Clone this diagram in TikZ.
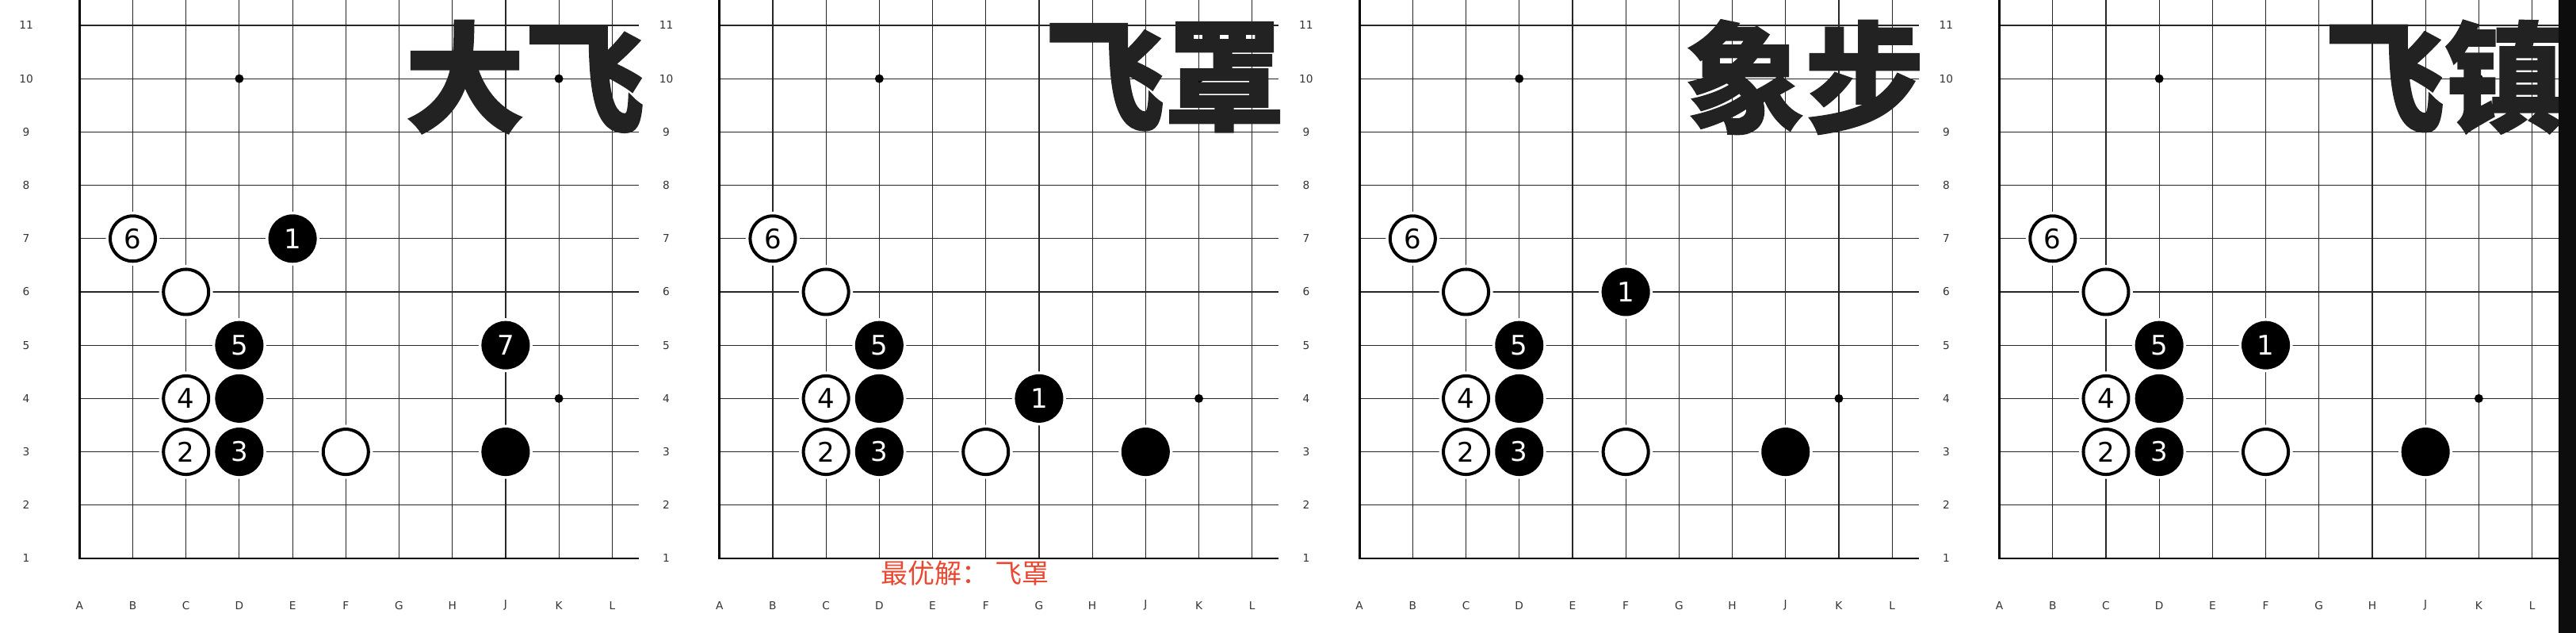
\documentclass[tikz,border=0pt]{standalone}
\usepackage{fontspec}
\setmainfont{DejaVu Sans}
\newfontfamily\cjk{Noto Sans CJK SC}
\newfontfamily\cjktitle{Noto Sans CJK SC}[BoldFeatures={FakeBold=1.2}]
\usetikzlibrary{positioning}
\definecolor{titlegray}{HTML}{222222}
\definecolor{hintred}{RGB}{234,72,48}

\begin{document}
\begin{tikzpicture}[
    gridline/.style={line width=0.5pt, black!85},
    border/.style={line width=1.2pt, black},
    stone/.style={circle, minimum size=0.848cm, inner sep=0pt, line width=1.7pt, preaction={draw=white, line width=4.65pt}, font=\fontsize{14.4pt}{14.4pt}\selectfont},
    wstone/.style={stone, draw=black, fill=white, text=black},
    bstone/.style={stone, draw=black, fill=black, text=white},
    star/.style={circle, fill=black, minimum size=0.164cm, inner sep=0pt},
    coordlabel/.style={font=\fontsize{5.8pt}{6pt}\selectfont, text=black!80},
    title/.style={font=\cjktitle\bfseries\fontsize{64pt}{64pt}\selectfont, text=titlegray, inner sep=0pt, anchor=west},
    hint/.style={font=\cjk\fontsize{14.4pt}{15pt}\selectfont, text=hintred, inner sep=0pt}
]
    \useasboundingbox (-1.4926,-1.399) rectangle (46.87,10.476);

    % Boards
    \foreach \p/\ttl in {0/大飞, 1/飞罩, 2/象步, 3/飞镇} {
      \begin{scope}[xshift=\p*12.015cm]
        \foreach \x in {0,...,10} \draw[gridline] (\x,0) -- (\x,10.476);
        \foreach \y in {1,...,10} \draw[gridline] (0,\y) -- (10.5,\y);
        \draw[border] (0,10.476) -- (0,0) -- (10.5,0);
        \foreach \c [count=\i from 0] in {A,B,C,D,E,F,G,H,J,K,L}
          \node (col\p\c) [coordlabel] at (\i,-0.88) {\c};
        \foreach \r in {1,...,11}
          \node (row\p-\r) [coordlabel] at (-1,\r-1) {\r};
        \node (star\p a) [star] at (3,9) {};
        \node (star\p b) [star] at (9,9) {};
        \node (star\p c) [star] at (9,3) {};
        \node (title\p) [title] at (6.1,9.03) {\ttl};
        % Shared stones
        \node (w6-\p) [wstone] at (1,6) {6};
        \node (wc6-\p) [wstone] at (2,5) {};
        \node (b5-\p) [bstone] at (3,4) {5};
        \node (w4-\p) [wstone] at (2,3) {4};
        \node (bd4-\p) [bstone] at (3,3) {};
        \node (w2-\p) [wstone] at (2,2) {2};
        \node (b3-\p) [bstone] at (3,2) {3};
        \node (wf3-\p) [wstone] at (5,2) {};
        \node (bj3-\p) [bstone] at (8,2) {};
      \end{scope}
    }

    % Black 1 in each board
    \node (b1-0) [bstone] at (4,6) {1};
    \node (b7-0) [bstone] at (8,4) {7};
    \node (b1-1) [bstone] at (12.015+6,3) {1};
    \node (b1-2) [bstone] at (24.03+5,5) {1};
    \node (b1-3) [bstone] at (36.045+5,4) {1};

    % Best answer
    \node (hint) [hint] at (12.015+4.61,-0.28) {最优解： 飞罩};

    % Right edge bar
    \fill[black!95] (46.545,-1.399) rectangle (46.87,10.476);
\end{tikzpicture}
\end{document}
